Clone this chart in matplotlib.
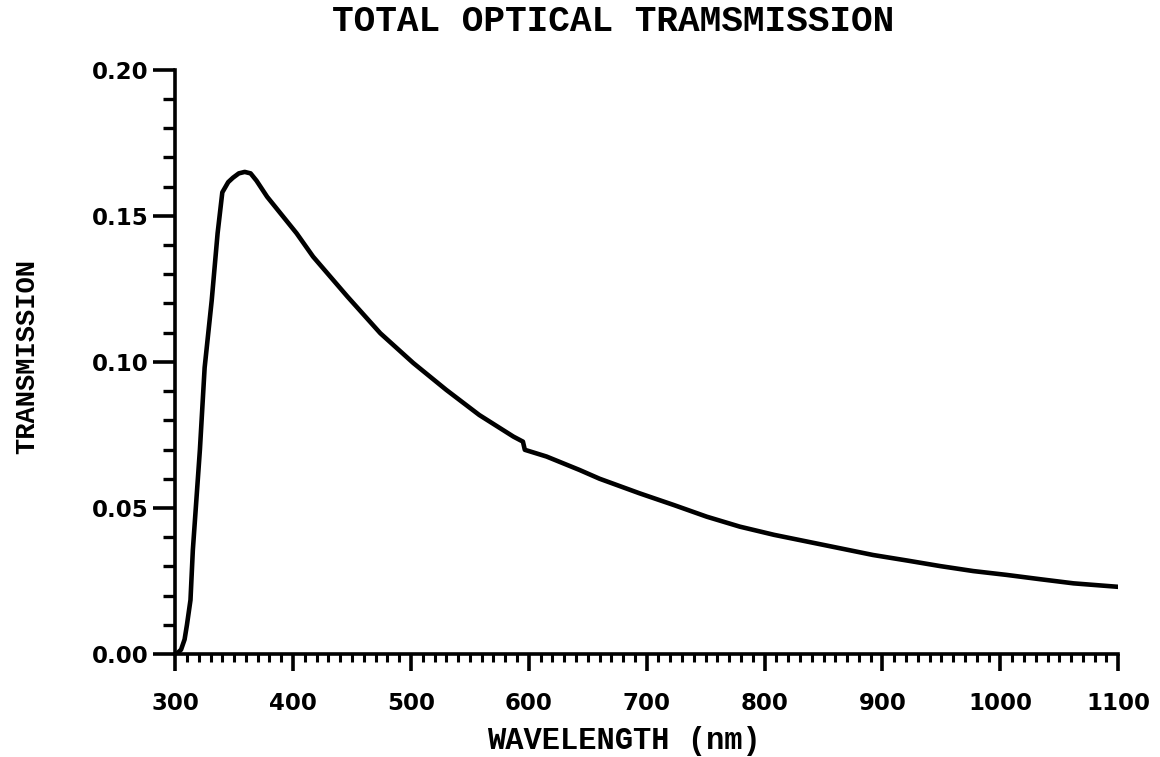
import matplotlib
matplotlib.use("Agg")
import matplotlib.pyplot as plt
from matplotlib.ticker import MultipleLocator, FormatStrFormatter

wavelength = [301, 305, 308, 310, 313, 315, 321, 325, 331, 336, 340, 345, 349, 354,
              359, 364, 369, 378, 389, 403, 417, 446, 474, 502, 530, 558, 587, 595,
              596.6, 615, 643, 660, 694, 723, 751, 779, 808, 836, 864, 892, 921, 949,
              977, 1005, 1034, 1062, 1100]
transmission = [0.000, 0.0015, 0.005, 0.010, 0.0185, 0.0356, 0.070, 0.098, 0.121, 0.144,
                0.158, 0.1615, 0.163, 0.1645, 0.165, 0.1645, 0.162, 0.1565, 0.151, 0.144,
                0.136, 0.1224, 0.1098, 0.0996, 0.0904, 0.0818, 0.0744, 0.0727,
                0.0699, 0.0676, 0.063, 0.060, 0.055, 0.051, 0.047, 0.0436, 0.0408, 0.0385,
                0.0362, 0.0339, 0.032, 0.0301, 0.0284, 0.0271, 0.0256, 0.0242, 0.023]

fig = plt.figure(figsize=(11.6, 7.57), dpi=100)
ax = fig.add_axes([0.151, 0.136, 0.813, 0.772])

ax.plot(wavelength, transmission, color="black", lw=3.3, solid_joinstyle="round",
        solid_capstyle="round")

ax.set_xlim(300, 1100)
ax.set_ylim(0, 0.20)
ax.xaxis.set_major_locator(MultipleLocator(100))
ax.xaxis.set_minor_locator(MultipleLocator(10))
ax.yaxis.set_major_locator(MultipleLocator(0.05))
ax.yaxis.set_minor_locator(MultipleLocator(0.01))
ax.yaxis.set_major_formatter(FormatStrFormatter("%.2f"))

for s in ("top", "right"):
    ax.spines[s].set_visible(False)
for s in ("left", "bottom"):
    ax.spines[s].set_linewidth(2.6)

ax.tick_params(axis="x", which="major", direction="out", length=12, width=2.6,
               pad=15, labelsize=16.5)
ax.tick_params(axis="x", which="minor", direction="out", length=6, width=2.2)
ax.tick_params(axis="y", which="major", direction="out", length=16, width=2.6,
               pad=3, labelsize=16.5)
ax.tick_params(axis="y", which="minor", direction="out", length=9, width=2.4)
for lab in ax.get_xticklabels() + ax.get_yticklabels():
    lab.set_fontweight("heavy")
    lab.set_family("DejaVu Sans")

mono = "Liberation Mono"
ax.set_title("TOTAL OPTICAL TRAMSMISSION", family=mono, fontweight="bold",
             fontsize=26, x=0.464, pad=28)
ax.set_xlabel("WAVELENGTH (nm)", family=mono, fontweight="bold", fontsize=22,
              labelpad=8, x=0.476)
ax.set_ylabel("TRANSMISSION", family=mono, fontweight="bold", fontsize=19.5,
              labelpad=37, y=0.51)

fig.savefig("out.png", dpi=100)
